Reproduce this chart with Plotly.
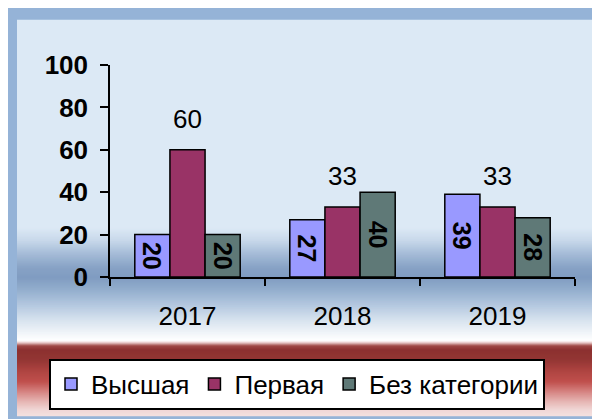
import plotly.graph_objects as go

# ---- data ----
years = ["2017", "2018", "2019"]
vysshaya = [20, 27, 39]
pervaya = [60, 33, 33]
bez_kat = [20, 40, 28]
series_names = ["Высшая", "Первая", "Без категории"]
y_ticks = [0, 20, 40, 60, 80, 100]

# ---- style ----
W, H = 600, 419
OFF = 8  # page body margin
ML, MT = 110 - OFF, 65 - OFF
MB = H - (277 - OFF)
MR = W - (575 - OFF)
PW, PH = W - ML - MR, H - MT - MB
FONT = "Liberation Sans, Arial, sans-serif"
C_V, C_P, C_B = "#9999FF", "#993366", "#5F7977"
FRAME = "#95B3D7"

def px(xs):  # screen px -> paper x
    return (xs - OFF - ML) / PW

def py(ys):  # screen px -> paper y
    return (H - MB - (ys - OFF)) / PH

def hex2rgb(h):
    h = h.lstrip("#")
    return tuple(int(h[i:i + 2], 16) for i in (0, 2, 4))

stops = [
    (20, "#DCE9F5"), (228, "#DCE9F5"), (240, "#C9D9EB"), (255, "#A3BAD6"),
    (268, "#87A2C5"), (278, "#809CC1"), (290, "#93AECD"), (305, "#B3C7DF"),
    (320, "#D6E2EE"), (335, "#F4F7FA"), (341, "#FFFFFF"), (343, "#E9C9C8"),
    (346, "#A04A48"), (350, "#8C3130"), (360, "#933634"), (372, "#B04542"),
    (382, "#C0504D"), (392, "#D58482"), (402, "#E6B6B4"), (410, "#F0D6D5"),
    (416, "#F4E0DF"),
]

def color_at(y):
    for (y0, c0), (y1, c1) in zip(stops[:-1], stops[1:]):
        if y0 <= y <= y1:
            t = 0 if y1 == y0 else (y - y0) / (y1 - y0)
            a, b = hex2rgb(c0), hex2rgb(c1)
            return "rgb(%d,%d,%d)" % tuple(round(a[i] + (b[i] - a[i]) * t) for i in range(3))
    return stops[-1][1]

shapes = []
rows = []
for yy in range(20, 416):
    c = color_at(yy + 0.5)
    if rows and rows[-1][2] == c:
        rows[-1][1] = yy + 1
    else:
        rows.append([yy, yy + 1, c])
for y0, y1, c in rows:
    shapes.append(dict(type="rect", xref="paper", yref="paper", layer="below",
                       x0=px(17), x1=px(594), y0=py(y0 - 0.3), y1=py(y1 + 0.3),
                       fillcolor=c, line=dict(width=0)))

fig = go.Figure()
common = dict(marker_line=dict(color="black", width=1.5))
fig.add_trace(go.Bar(name=series_names[0], x=years, y=vysshaya, marker_color=C_V,
                     text=[str(v) for v in vysshaya], textposition="inside",
                     insidetextanchor="middle", textangle=90, constraintext="none",
                     insidetextfont=dict(family=FONT, size=25, color="black", weight="bold"),
                     **common))
fig.add_trace(go.Bar(name=series_names[1], x=years, y=pervaya, marker_color=C_P,
                     **common))
fig.add_trace(go.Bar(name=series_names[2], x=years, y=bez_kat, marker_color=C_B,
                     text=[str(v) for v in bez_kat], textposition="inside",
                     insidetextanchor="middle", textangle=90, constraintext="none",
                     insidetextfont=dict(family=FONT, size=25, color="black", weight="bold"),
                     **common))

annotations = [dict(x=i, y=v, xref="x", yref="y", text=str(v), showarrow=False,
                    yanchor="bottom", yshift=14,
                    font=dict(family=FONT, size=26, color="black"))
               for i, v in enumerate(pervaya)]

fig.update_layout(
    width=W, height=H, margin=dict(l=ML, r=MR, t=MT, b=MB, autoexpand=False),
    paper_bgcolor=FRAME, plot_bgcolor="rgba(0,0,0,0)",
    barmode="group", bargap=0.32, bargroupgap=0,
    font=dict(family=FONT, color="black"),
    shapes=shapes, annotations=annotations,
    showlegend=True,
    legend=dict(orientation="h", x=px(49), y=py(384), xanchor="left", yanchor="middle",
                bgcolor="white", bordercolor="black", borderwidth=2,
                font=dict(family=FONT, size=26, color="black"), itemwidth=30,
                traceorder="normal"),
)
fig.update_xaxes(type="category", range=[-0.5, 2.5], tickson="boundaries",
                 ticks="outside", ticklen=7, tickwidth=1.5, tickcolor="black",
                 showline=True, linecolor="black", linewidth=1.5, showgrid=False,
                 zeroline=False, ticklabelstandoff=15,
                 tickfont=dict(family=FONT, size=26, color="black"))
fig.update_yaxes(range=[0, 100], tickvals=y_ticks, ticks="outside", ticklen=8,
                 tickwidth=1.5, tickcolor="black", showline=True, linecolor="black",
                 linewidth=1.5, showgrid=False, zeroline=False, ticklabelstandoff=7,
                 tickfont=dict(family=FONT, size=26, color="black", weight="bold"))

fig.write_html("out.html")
